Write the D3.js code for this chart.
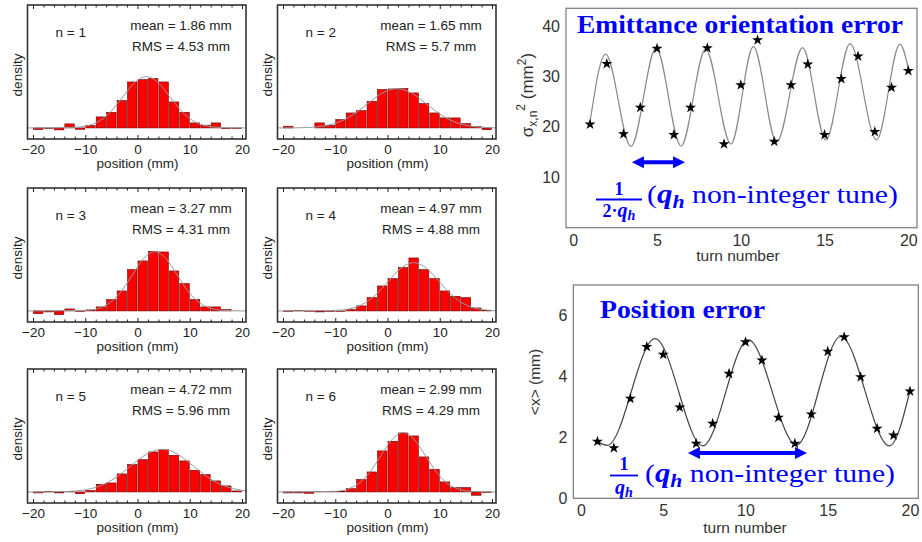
<!DOCTYPE html>
<html><head><meta charset="utf-8">
<script src="https://cdn.jsdelivr.net/npm/d3@7"></script>
<style>body{margin:0;background:#fff} svg{display:block}</style>
</head><body>
<svg id="c" width="922" height="542"></svg>
<script>
// ---------- data ----------
const binLeft = [-20,-18,-16,-14,-12,-10,-8,-6,-4,-2,0,2,4,6,8,10,12,14,16,18];
const binWidth = 2;
const histTicks = [-20,-10,0,10,20];
const histMinorTicks = [-18,-16,-14,-12,-8,-6,-4,-2,2,4,6,8,12,14,16,18];
const panelN = [1,2,3,4,5,6];
const meanLabels = ["1.86","1.65","3.27","4.97","4.72","2.99"];
const rmsLabels = ["4.53","5.7","4.31","4.88","5.96","4.29"];

const density1 = [-0.0029,-0.0011,-0.0034,0.0069,-0.0023,0.0040,0.0189,0.0269,0.0469,0.0789,0.0829,0.0847,0.0789,0.0446,0.0269,0.0086,0.0046,0.0086,-0.0011,-0.0011];
const density2 = [0.0029,0,0,0.0086,0.0046,0.0143,0.0257,0.0297,0.0458,0.0658,0.0669,0.0675,0.0601,0.0418,0.0257,0.0172,0.0172,0.0074,0.0023,-0.0029];
const density3 = [-0.0046,-0.0017,-0.0063,0.0034,-0.0006,0.0017,0.0069,0.0194,0.0343,0.0709,0.0858,0.1024,0.1012,0.0686,0.0469,0.0194,0.0069,0.0069,0.0023,0];
const density4 = [-0.0011,0.0006,-0.0006,-0.0017,-0.0006,-0.0006,0.0023,0.0086,0.0229,0.0429,0.0555,0.0744,0.0909,0.0709,0.0555,0.0343,0.0252,0.0229,0.0051,0.0011];
const density5 = [-0.0017,0.0011,-0.0017,0.0006,-0.0029,0.0023,0.0132,0.0154,0.0309,0.0469,0.0555,0.0686,0.0726,0.0629,0.0532,0.0372,0.0297,0.0189,0.0103,0.0017];
const density6 = [-0.0017,-0.0017,-0.0023,0.0006,0.0006,0.0006,0.0057,0.0212,0.0343,0.0704,0.0869,0.1012,0.0961,0.0601,0.0389,0.0172,0.0074,0.0074,-0.0057,-0.0011];

// fitted curves, points [position, density]
const fit1 = [[-21,0],[-20,0],[-11.8,0.0010],[-9.55,0.0039],[-7.3,0.0119],[-5.05,0.0286],[-2.8,0.0534],[-0.55,0.0777],[1.7,0.0881],[3.95,0.0777],[6.2,0.0534],[8.45,0.0286],[10.7,0.0119],[12.95,0.0039],[15.2,0.0010],[20,0],[20.8,0]];
const fit2 = [[-21,0],[-20,0],[-15.3,0.0007],[-12.45,0.0030],[-9.6,0.0091],[-6.75,0.0219],[-3.9,0.0409],[-1.05,0.0596],[1.8,0.0675],[4.65,0.0596],[7.5,0.0409],[10.35,0.0219],[13.2,0.0091],[16.05,0.0030],[18.9,0.0007],[20.8,0]];
const fit3 = [[-21,0],[-20,0],[-9.6,0.0011],[-7.45,0.0045],[-5.3,0.0138],[-3.15,0.0331],[-1.0,0.0617],[1.15,0.0898],[3.3,0.1018],[5.45,0.0898],[7.6,0.0617],[9.75,0.0331],[11.9,0.0138],[14.05,0.0045],[16.2,0.0011],[20,0],[20.8,0]];
const fit4 = [[-21,0],[-20,0],[-9.7,0.0009],[-7.25,0.0036],[-4.8,0.0112],[-2.35,0.0269],[0.1,0.0503],[2.55,0.0732],[5.0,0.0829],[7.45,0.0732],[9.9,0.0503],[12.35,0.0269],[14.8,0.0112],[17.25,0.0036],[19.7,0.0009],[20.8,0]];
const fit5 = [[-21,0],[-20,0],[-13.3,0.0008],[-10.3,0.0032],[-7.3,0.0099],[-4.3,0.0238],[-1.3,0.0444],[1.7,0.0646],[4.7,0.0732],[7.7,0.0646],[10.7,0.0444],[13.7,0.0238],[16.7,0.0099],[19.7,0.0032],[20.8,0.0015]];
const fit6 = [[-21,0],[-20,0],[-9.9,0.0011],[-7.75,0.0045],[-5.6,0.0138],[-3.45,0.0331],[-1.3,0.0617],[0.85,0.0898],[3.0,0.1018],[5.15,0.0898],[7.3,0.0617],[9.45,0.0331],[11.6,0.0138],[13.75,0.0045],[15.9,0.0011],[20,0],[20.8,0]];

const turns = [1,2,3,4,5,6,7,8,9,10,11,12,13,14,15,16,17,18,19,20];
const turnTicks = [0,5,10,15,20];
const sigma2 = [20.52,32.49,18.58,23.81,35.52,18.40,23.8,35.6,16.6,28.3,37.2,17.1,28.3,32.4,18.4,29.5,34.0,19.0,27.8,31.1];
const sigma2Fit = [[1,21.0],[1.93,34.4],[3.44,16.1],[4.94,35.6],[6.43,16.2],[7.9,35.4],[9.41,16.6],[10.75,35.9],[12.14,17.0],[13.69,35.7],[15.08,17.4],[16.52,36.5],[18.11,17.4],[19.5,36.4],[20,31.6]];
const sigma2Ticks = [10,20,30,40];
const meanX = [1.86,1.65,3.27,4.97,4.72,2.99,1.80,2.45,4.09,5.13,4.53,2.65,1.80,2.76,4.82,5.29,3.98,2.29,2.07,3.51];
const meanXFit = [[1,1.86],[1.6,1.74],[4.5,5.24],[7.4,1.72],[10.17,5.2],[13.1,1.75],[15.79,5.31],[18.75,1.72],[20,3.53]];
const meanXTicks = [0,2,4,6];
const arrowTop = [3.5, 6.67, 13.0];      // x1, x2, y (data units)
const arrowBottom = [6.5, 13.74, 1.49];

// ---------- drawing ----------
const svg = d3.select("#c");
const SANS = "Liberation Sans, Arial, sans-serif";
const SERIF = "Liberation Serif, Times New Roman, serif";
const BLUE = "#0000ff";

const densities = [density1,density2,density3,density4,density5,density6];
const fits = [fit1,fit2,fit3,fit4,fit5,fit6];
const HW = 218.5, HH = 134;
const colX = [27.5, 277.5], rowY = [5, 188, 369];

densities.forEach((dens, i) => {
  const fx = colX[i % 2], fy = rowY[Math.floor(i / 2)];
  const x = d3.scaleLinear().domain([-20, 20]).range([fx + 5.5, fx + 214.5]);
  const y = d3.scaleLinear().domain([-0.019, 0.211]).range([fy + HH, fy]);
  const g = svg.append("g");

  g.selectAll("rect.bar")
    .data(binLeft.map((b, j) => ({ x0: b, v: dens[j] })))
    .join("rect").attr("class", "bar")
    .attr("x", d => x(d.x0) + 0.5)
    .attr("width", d => x(d.x0 + binWidth) - x(d.x0) - 1)
    .attr("y", d => y(Math.max(0, d.v)))
    .attr("height", d => Math.abs(y(d.v) - y(0)))
    .attr("fill", "#ff0000").attr("stroke", "#6a0000").attr("stroke-width", 0.6);

  g.append("path").datum(fits[i])
    .attr("d", d3.line().x(d => x(d[0])).y(d => y(d[1])).curve(d3.curveMonotoneX))
    .attr("fill", "none").attr("stroke", "#999").attr("stroke-width", 1);

  g.append("rect").attr("x", fx).attr("y", fy).attr("width", HW).attr("height", HH)
    .attr("fill", "none").attr("stroke", "#333").attr("stroke-width", 1.6);

  const styleAxis = s => { s.select(".domain").remove(); s.attr("font-family", SANS).attr("font-size", 13.5).attr("color", "#222"); };
  g.append("g").attr("transform", `translate(0,${fy + HH})`)
    .call(d3.axisBottom(x).tickValues(histTicks).tickSize(-4).tickPadding(5)).call(styleAxis);
  g.append("g").attr("transform", `translate(0,${fy + HH})`)
    .call(d3.axisBottom(x).tickValues(histMinorTicks).tickSize(-2.5).tickFormat(() => "")).call(styleAxis);
  g.append("g").attr("transform", `translate(0,${fy})`)
    .call(d3.axisTop(x).tickValues(histTicks).tickSize(-4).tickFormat(() => "")).call(styleAxis);
  g.append("g").attr("transform", `translate(0,${fy})`)
    .call(d3.axisTop(x).tickValues(histMinorTicks).tickSize(-2.5).tickFormat(() => "")).call(styleAxis);

  const txt = (tx, ty, s, anchor) => g.append("text").attr("x", tx).attr("y", ty)
    .attr("font-family", SANS).attr("font-size", 13.5).attr("fill", "#222")
    .attr("text-anchor", anchor || "start").text(s);
  txt(fx + 28, fy + 32, "n = " + panelN[i]);
  txt(fx + 153.5, fy + 25, "mean = " + meanLabels[i] + " mm", "middle");
  txt(fx + 153.5, fy + 45.5, "RMS = " + rmsLabels[i] + " mm", "middle");
  txt(x(0), fy + HH + 29, "position (mm)", "middle");
  g.append("text").attr("transform", `translate(${fx - 10.5},${fy + 70}) rotate(-90)`)
    .attr("font-family", SANS).attr("font-size", 13.5).attr("fill", "#222")
    .attr("text-anchor", "middle").attr("dominant-baseline", "central").text("density");
});

// ---------- right panels ----------
function rightPanel(opt) {
  const g = svg.append("g");
  const x = d3.scaleLinear().domain([0, 20]).range(opt.xr);
  const y = d3.scaleLinear().domain(opt.yd).range([opt.fb, opt.ft]);
  g.append("path").datum(opt.fit)
    .attr("d", d3.line().x(d => x(d[0])).y(d => y(d[1])).curve(d3.curveMonotoneX))
    .attr("fill", "none").attr("stroke", opt.curveColor).attr("stroke-width", 1.2);
  g.selectAll("path.star").data(opt.values).join("path").attr("class", "star")
    .attr("transform", (d, j) => `translate(${x(turns[j])},${y(d)})`)
    .attr("d", d3.symbol(d3.symbolStar, 38)).attr("fill", "#000");
  g.append("rect").attr("x", opt.fl).attr("y", opt.ft).attr("width", opt.fr - opt.fl).attr("height", opt.fb - opt.ft)
    .attr("fill", "none").attr("stroke", "#777").attr("stroke-width", 1.2);
  const styleAxis = s => { s.select(".domain").remove(); s.attr("font-family", SANS).attr("font-size", 16).attr("color", "#333"); };
  g.append("g").attr("transform", `translate(0,${opt.fb})`)
    .call(d3.axisBottom(x).tickValues(turnTicks).tickSize(0).tickPadding(opt.xpad).tickFormat(d3.format("d"))).call(styleAxis);
  g.append("g").attr("transform", `translate(${opt.fl},0)`)
    .call(d3.axisLeft(y).tickValues(opt.yticks).tickSize(0).tickPadding(6).tickFormat(d3.format("d"))).call(styleAxis);
  g.append("text").attr("x", opt.xlab[0]).attr("y", opt.xlab[1]).attr("text-anchor", "middle")
    .attr("font-family", SANS).attr("font-size", 15.5).attr("fill", "#333").text("turn number");
  // double arrow
  const [a1, a2, ay] = opt.arrow;
  const X1 = x(a1), X2 = x(a2), Y = y(ay), L = 12, W = 6;
  g.append("line").attr("x1", X1 + L - 1).attr("x2", X2 - L + 1).attr("y1", Y).attr("y2", Y)
    .attr("stroke", BLUE).attr("stroke-width", 4);
  g.append("path").attr("d", `M${X1},${Y}L${X1 + L},${Y - W}L${X1 + L},${Y + W}Z M${X2},${Y}L${X2 - L},${Y - W}L${X2 - L},${Y + W}Z`)
    .attr("fill", BLUE);
  return g;
}

rightPanel({
  xr: [573.3, 908.3], yd: [0, 43.5], fl: 566, fr: 917, ft: 8.3, fb: 227.7,
  fit: sigma2Fit, values: sigma2, curveColor: "#8a8a8a", yticks: sigma2Ticks, xpad: 6.5,
  xlab: [738, 261], arrow: arrowTop
});
rightPanel({
  xr: [581, 910], yd: [0, 7], fl: 573.3, fr: 918.3, ft: 285, fb: 498.3,
  fit: meanXFit, values: meanX, curveColor: "#444", yticks: meanXTicks, xpad: 6,
  xlab: [745, 533], arrow: arrowBottom
});

// y axis titles
const yt1 = svg.append("text").attr("transform", "translate(533,95) rotate(-90)")
  .attr("font-family", SANS).attr("font-size", 17).attr("fill", "#333").attr("text-anchor", "middle");
yt1.append("tspan").text("σ");
yt1.append("tspan").attr("font-size", 12).attr("dy", 4).text("x,n");
yt1.append("tspan").attr("font-size", 12).attr("dy", -12).text("2");
yt1.append("tspan").attr("dy", 8).text(" (mm");
yt1.append("tspan").attr("font-size", 12).attr("dy", -7).text("2");
yt1.append("tspan").attr("dy", 7).text(")");

svg.append("text").attr("transform", "translate(540,382) rotate(-90)")
  .attr("font-family", SANS).attr("font-size", 15.5).attr("fill", "#333").attr("text-anchor", "middle")
  .text("<x> (mm)");

// titles
svg.append("text").attr("x", 577).attr("y", 33).attr("font-family", SERIF).attr("font-weight", "bold")
  .attr("font-size", 25).attr("fill", BLUE).attr("textLength", 326).attr("lengthAdjust", "spacingAndGlyphs")
  .text("Emittance orientation error");
svg.append("text").attr("x", 600).attr("y", 318).attr("font-family", SERIF).attr("font-weight", "bold")
  .attr("font-size", 25).attr("fill", BLUE).attr("textLength", 165).attr("lengthAdjust", "spacingAndGlyphs")
  .text("Position error");

// annotations
function qh(t, big, small, dy) {
  t.append("tspan").attr("font-weight", "bold").attr("font-style", "italic").attr("font-size", big).text("q");
  t.append("tspan").attr("font-weight", "bold").attr("font-style", "italic").attr("font-size", small).attr("dy", dy).text("h");
}
function annotation(cx, numY, lineY, lineX1, lineX2, denY, twoDot, tx, ty, tlen) {
  svg.append("text").attr("x", cx).attr("y", numY).attr("text-anchor", "middle").attr("font-family", SERIF)
    .attr("font-weight", "bold").attr("font-size", 18).attr("fill", BLUE).text("1");
  svg.append("line").attr("x1", lineX1).attr("x2", lineX2).attr("y1", lineY).attr("y2", lineY)
    .attr("stroke", BLUE).attr("stroke-width", 1.8);
  const d = svg.append("text").attr("x", cx).attr("y", denY).attr("text-anchor", "middle")
    .attr("font-family", SERIF).attr("fill", BLUE);
  if (twoDot) d.append("tspan").attr("font-weight", "bold").attr("font-size", 18).text("2·");
  qh(d, 20, 14, 3);
  const t = svg.append("text").attr("x", tx).attr("y", ty).attr("font-family", SERIF).attr("font-size", 26)
    .attr("fill", BLUE).attr("textLength", tlen).attr("lengthAdjust", "spacingAndGlyphs");
  t.append("tspan").text("(");
  qh(t, 27, 19, 5);
  t.append("tspan").attr("dy", -5).text(" non-integer tune)");
}
annotation(619, 195, 199.5, 596, 642, 217, true, 647, 203, 251);
annotation(624, 470, 475.5, 610, 638, 494, false, 645, 482, 250);
</script>
</body></html>
